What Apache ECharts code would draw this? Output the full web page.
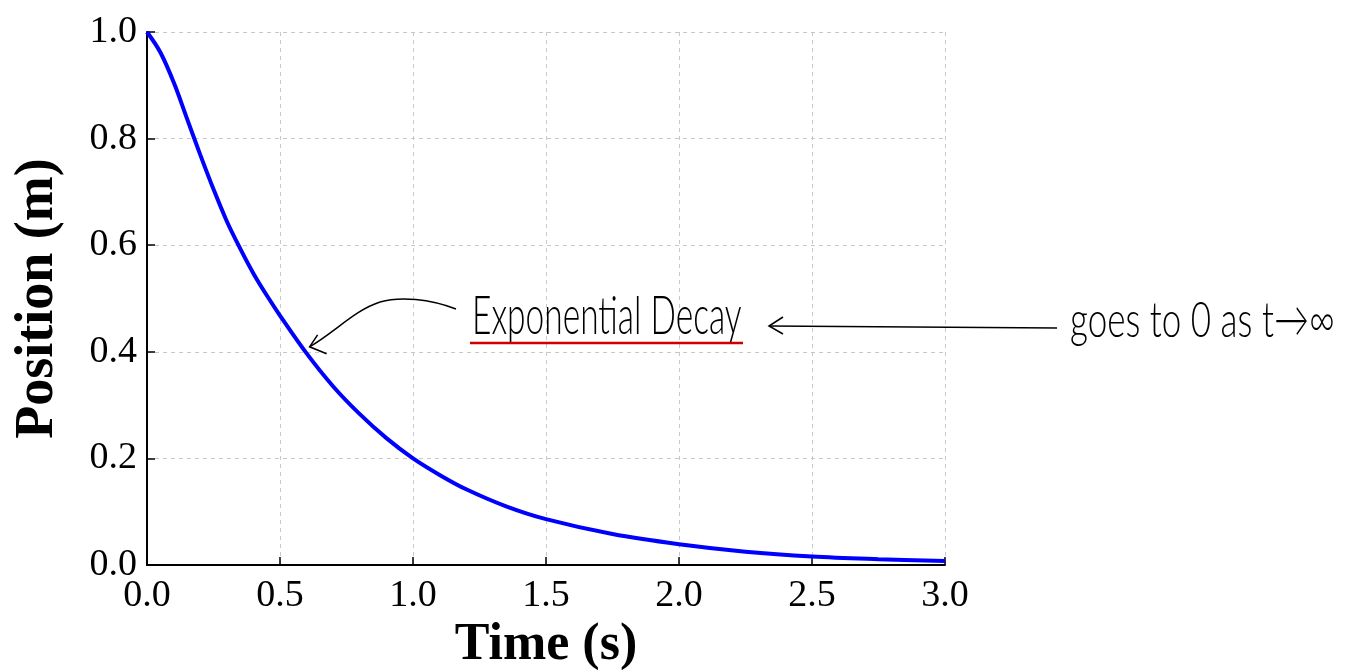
<!DOCTYPE html>
<html>
<head>
<meta charset="utf-8">
<script src="https://cdn.jsdelivr.net/npm/echarts@6/dist/echarts.min.js"></script>
<style>
html,body{margin:0;padding:0;background:#fff;}
#chart{width:1358px;height:670px;}
</style>
</head>
<body>
<div id="chart"></div>
<script>
// Data
var timeValues = [0, 0.05, 0.1, 0.15, 0.2, 0.25, 0.3, 0.35, 0.4, 0.45, 0.5, 0.6, 0.7, 0.8, 0.9, 1.0, 1.1, 1.2, 1.35, 1.5, 1.75, 2.0, 2.25, 2.5, 2.75, 3.0];
var positionValues = [1.0, 0.962, 0.906, 0.838, 0.77, 0.705, 0.645, 0.594, 0.547, 0.506, 0.468, 0.397, 0.335, 0.283, 0.238, 0.20, 0.169, 0.142, 0.11, 0.086, 0.058, 0.039, 0.025, 0.016, 0.011, 0.0075];
var xTicks = ['0.0', '0.5', '1.0', '1.5', '2.0', '2.5', '3.0'];
var yTicks = ['0.0', '0.2', '0.4', '0.6', '0.8', '1.0'];
var annotationText = 'Exponential Decay';
var sideNoteText = 'goes to 0 as t\u2192\u221e';
var arrowTarget = [0.6, 0.4];

var seriesData = timeValues.map(function (t, i) { return [t, positionValues[i]]; });

var chart = echarts.init(document.getElementById('chart'));
var serif = '"Liberation Serif", "DejaVu Serif", serif';
var hand = 'Lato, "Liberation Sans", sans-serif';

var option = {
  animation: false,
  backgroundColor: '#ffffff',
  grid: { left: 147, right: 413, top: 32, bottom: 105, containLabel: false, outerBoundsMode: 'none' },
  xAxis: {
    type: 'value', min: 0, max: 3, interval: 0.5,
    name: 'Time (s)', nameLocation: 'middle', nameGap: 55,
    nameTextStyle: { fontFamily: serif, fontWeight: 'bold', fontSize: 52, color: '#000' },
    axisLine: { show: true, lineStyle: { color: '#000', width: 2 } },
    axisTick: { show: true, inside: true, length: 8, lineStyle: { color: '#000', width: 1.5 } },
    axisLabel: { fontFamily: serif, fontSize: 38, color: '#000', margin: 12,
      formatter: function (v) { var i = Math.round(v / 0.5); return xTicks[i] !== undefined ? xTicks[i] : ''; } },
    splitLine: { show: true, lineStyle: { color: '#c8c8c8', type: [4, 4], width: 1 } }
  },
  yAxis: {
    type: 'value', min: 0, max: 1, interval: 0.2,
    name: 'Position (m)', nameLocation: 'middle', nameGap: 82, nameRotate: 90,
    nameTextStyle: { fontFamily: serif, fontWeight: 'bold', fontSize: 54, color: '#000' },
    axisLine: { show: true, lineStyle: { color: '#000', width: 2 } },
    axisTick: { show: true, inside: true, length: 8, lineStyle: { color: '#000', width: 1.5 } },
    axisLabel: { fontFamily: serif, fontSize: 38, color: '#000', margin: 10,
      formatter: function (v) { var i = Math.round(v / 0.2); return yTicks[i] !== undefined ? yTicks[i] : ''; } },
    splitLine: { show: true, lineStyle: { color: '#c8c8c8', type: [4, 4], width: 1 } }
  },
  series: [{
    type: 'line', data: seriesData, smooth: 0.35, showSymbol: false, symbol: 'none',
    lineStyle: { color: '#0000ff', width: 4 }, clip: false, z: 3
  }]
};
chart.setOption(option);

var tip = chart.convertToPixel({ gridIndex: 0 }, arrowTarget);
var tx = tip[0] + 3, ty = tip[1] - 5;
chart.setOption({
  graphic: [
    { type: 'bezierCurve', shape: { x1: 456, y1: 309, cpx1: 430, cpy1: 299, cpx2: 400, cpy2: 296, x2: 380, y2: 302 },
      style: { fill: 'none', stroke: '#000', lineWidth: 1.5 } },
    { type: 'bezierCurve', shape: { x1: 380, y1: 302, cpx1: 355, cpy1: 310, cpx2: 335, cpy2: 332, x2: tx, y2: ty },
      style: { fill: 'none', stroke: '#000', lineWidth: 1.5 } },
    { type: 'polyline', shape: { points: [[tx + 8, ty - 12], [tx, ty], [tx + 17, ty + 7]] },
      style: { fill: 'none', stroke: '#000', lineWidth: 1.5 } },
    { type: 'text', x: 472, y: 290, scaleX: 0.62,
      style: { text: annotationText, font: '300 54px ' + hand, fill: '#000', verticalAlign: 'top', align: 'left' } },
    { type: 'line', shape: { x1: 470, y1: 343, x2: 743, y2: 343 },
      style: { stroke: '#cc0000', lineWidth: 2.5 } },
    { type: 'line', shape: { x1: 769, y1: 326, x2: 1057, y2: 328 },
      style: { stroke: '#000', lineWidth: 1.5 } },
    { type: 'polyline', shape: { points: [[783, 317], [769, 326], [783, 334]] },
      style: { fill: 'none', stroke: '#000', lineWidth: 1.5 } },
    { type: 'text', x: 1070, y: 296, scaleX: 0.7,
      style: { text: sideNoteText, font: '300 50px ' + hand, fill: '#000', verticalAlign: 'top', align: 'left' } }
  ]
});
</script>
</body>
</html>
